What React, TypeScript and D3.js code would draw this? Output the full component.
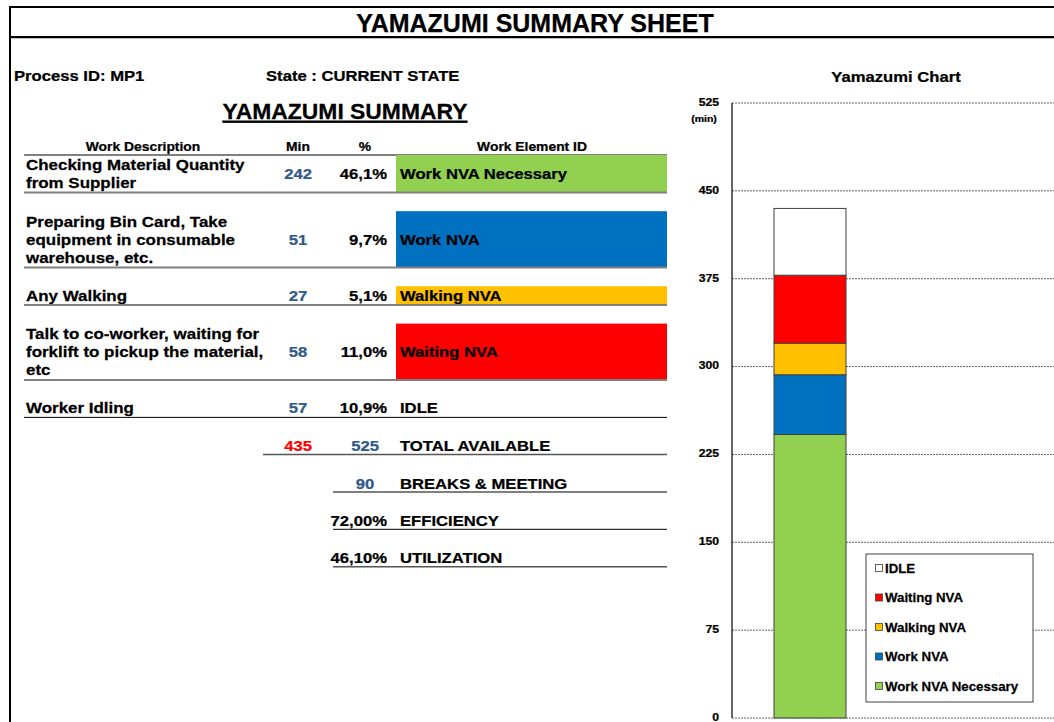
import React from "react";
import * as d3 from "d3";

// table data
const descriptions = [
  ["Checking Material Quantity", "from Supplier"],
  ["Preparing Bin Card, Take", "equipment in consumable", "warehouse, etc."],
  ["Any Walking"],
  ["Talk to co-worker, waiting for", "forklift to pickup the material,", "etc"],
  ["Worker Idling"],
];
const minutes = [242, 51, 27, 58, 57];
const percents = ["46,1%", "9,7%", "5,1%", "11,0%", "10,9%"];
const elements = ["Work NVA Necessary", "Work NVA", "Walking NVA", "Waiting NVA", "IDLE"];
const elementColors = ["#92D050", "#0070C0", "#FFC000", "#FF0000", "#FFFFFF"];

const totalUsed = 435;
const totalAvailable = 525;
const breaks = 90;
const efficiency = "72,00%";
const utilization = "46,10%";

const yTicks = [0, 75, 150, 225, 300, 375, 450, 525];
const processes = ["MP1"];

const FONT = "'Liberation Sans', Arial, sans-serif";
const BLUE_NUM = "#2F5A89";

type TProps = {
  x: number;
  y: number;
  size: number;
  anchor?: "start" | "middle" | "end";
  fill?: string;
  sx?: number;
  children: React.ReactNode;
  deco?: string;
};

// text with a slight horizontal stretch, like the Excel rendering
function T({ x, y, size, anchor = "start", fill = "#000", sx = 1.11, children, deco }: TProps) {
  return (
    <text
      transform={`translate(${x},${y}) scale(${sx},1)`}
      dy="0.35em"
      fontSize={size}
      fontWeight="bold"
      fontFamily={FONT}
      textAnchor={anchor}
      fill={fill}
      stroke={fill}
      strokeWidth={0.25}
      textDecoration={deco}
    >
      {children}
    </text>
  );
}

function Table() {
  const lineH = 18.8;
  const gap = 18.6;
  let top = 155;
  const rows = descriptions.map((lines, i) => {
    const h = lines.length * lineH;
    const r = { top, h, lines, i };
    top += h + gap;
    return r;
  });
  const lastBottom = rows[rows.length - 1].top + rows[rows.length - 1].h;
  const totals = [0, 1, 2, 3].map(k => lastBottom + 28.6 + k * 37.4);

  return (
    <g>
      <T x={143} y={147} size={12.5} anchor="middle">Work Description</T>
      <T x={298} y={147} size={12.5} anchor="middle">Min</T>
      <T x={365} y={147} size={12.5} anchor="middle">%</T>
      <T x={532} y={147} size={12.5} anchor="middle">Work Element ID</T>
      <line x1={24} x2={667} y1={155} y2={155} stroke="#000" strokeWidth={1} />

      {rows.map(r => {
        const cy = r.top + r.h / 2;
        const last = r.i === rows.length - 1;
        return (
          <g key={r.i}>
            {elementColors[r.i] !== "#FFFFFF" && (
              <rect x={396} y={r.top} width={271} height={r.h} fill={elementColors[r.i]} />
            )}
            {r.lines.map((t, j) => (
              <T key={j} x={26} y={cy + (j - (r.lines.length - 1) / 2) * 18} size={15} sx={1.13}>
                {t}
              </T>
            ))}
            <T x={298} y={cy} size={15} anchor="middle" fill={BLUE_NUM}>
              {minutes[r.i]}
            </T>
            <T x={387} y={cy} size={15} anchor="end">{percents[r.i]}</T>
            <T x={400} y={cy} size={15}>{elements[r.i]}</T>
            <line
              x1={24}
              x2={667}
              y1={r.top + r.h}
              y2={r.top + r.h}
              stroke={last ? "#000" : "#808080"}
              strokeWidth={last ? 1 : 2}
            />
          </g>
        );
      })}

      <T x={298} y={totals[0]} size={15} anchor="middle" fill="#FF0000">{totalUsed}</T>
      <T x={365} y={totals[0]} size={15} anchor="middle" fill={BLUE_NUM}>{totalAvailable}</T>
      <T x={400} y={totals[0]} size={15}>TOTAL AVAILABLE</T>
      <line x1={263} x2={667} y1={totals[0] + 8.5} y2={totals[0] + 8.5} stroke="#555" strokeWidth={1.5} />

      <T x={365} y={totals[1]} size={15} anchor="middle" fill={BLUE_NUM}>{breaks}</T>
      <T x={400} y={totals[1]} size={15}>BREAKS &amp; MEETING</T>
      <line x1={333} x2={667} y1={totals[1] + 8.5} y2={totals[1] + 8.5} stroke="#555" strokeWidth={1.5} />

      <T x={387} y={totals[2]} size={15} anchor="end">{efficiency}</T>
      <T x={400} y={totals[2]} size={15}>EFFICIENCY</T>
      <line x1={333} x2={667} y1={totals[2] + 8.5} y2={totals[2] + 8.5} stroke="#333" strokeWidth={1.2} />

      <T x={387} y={totals[3]} size={15} anchor="end">{utilization}</T>
      <T x={400} y={totals[3]} size={15}>UTILIZATION</T>
      <line x1={333} x2={667} y1={totals[3] + 8.5} y2={totals[3] + 8.5} stroke="#555" strokeWidth={1.5} />
    </g>
  );
}

function YamazumiChart() {
  const y = d3.scaleLinear().domain([0, 525]).range([718, 103]);
  const x = d3.scaleBand().domain(processes).range([774, 846]).padding(0);

  const row: Record<string, number | string> = { process: "MP1" };
  elements.forEach((k, i) => (row[k] = minutes[i]));
  const series = d3.stack<any>().keys(elements)([row]);

  const legendItems = elements.map((e, i) => ({ e, c: elementColors[i] })).reverse();

  return (
    <g>
      <T x={896} y={77} size={15} anchor="middle">Yamazumi Chart</T>

      {yTicks.map(t => (
        <g key={t}>
          <line
            x1={732}
            x2={1054}
            y1={y(t)}
            y2={y(t)}
            stroke="#666"
            strokeWidth={1}
            strokeDasharray="2,1"
          />
          <T x={719} y={y(t) - 1} size={11} anchor="end">{t}</T>
        </g>
      ))}
      <T x={704} y={y(525) + 16} size={9.5} anchor="middle">(min)</T>
      <line x1={732} x2={732} y1={y(525)} y2={y(0)} stroke="#000" strokeWidth={1.2} />

      {series.map((s, i) =>
        s.map((d, j) => (
          <rect
            key={`${i}-${j}`}
            x={x(processes[j])}
            width={x.bandwidth()}
            y={y(d[1])}
            height={y(d[0]) - y(d[1])}
            fill={elementColors[i]}
            stroke="#404040"
            strokeWidth={1}
          />
        ))
      )}

      <rect x={866} y={554} width={167} height={148} fill="#fff" stroke="#404040" strokeWidth={1} />
      {legendItems.map((it, i) => {
        const cy = 568 + i * 29.5;
        return (
          <g key={it.e}>
            <rect x={875.5} y={cy - 3.5} width={7} height={7} fill={it.c} stroke="#404040" strokeWidth={0.8} />
            <T x={885} y={cy} size={13} sx={1.02}>{it.e}</T>
          </g>
        );
      })}
    </g>
  );
}

export default function App() {
  return (
    <div style={{ position: "fixed", left: 0, top: 0 }}>
      <svg width={1054} height={722} style={{ display: "block", background: "#fff" }}>
        <rect x={0} y={0} width={1054} height={722} fill="#fff" />
        {/* sheet frame */}
        <line x1={10} x2={1054} y1={7} y2={7} stroke="#000" strokeWidth={2} />
        <line x1={10} x2={1054} y1={37} y2={37} stroke="#000" strokeWidth={2} />
        <line x1={10} x2={1054} y1={38.5} y2={38.5} stroke="#bbb" strokeWidth={1} />
        <line x1={10} x2={10} y1={6} y2={722} stroke="#000" strokeWidth={2} />

        <T x={535} y={23} size={25} anchor="middle" sx={1}>YAMAZUMI SUMMARY SHEET</T>
        <T x={14} y={76} size={15}>Process ID: MP1</T>
        <T x={266} y={76} size={15}>State : CURRENT STATE</T>
        <T x={345} y={111} size={22} anchor="middle" sx={1.04} deco="underline">YAMAZUMI SUMMARY</T>

        <Table />
        <YamazumiChart />
      </svg>
    </div>
  );
}
